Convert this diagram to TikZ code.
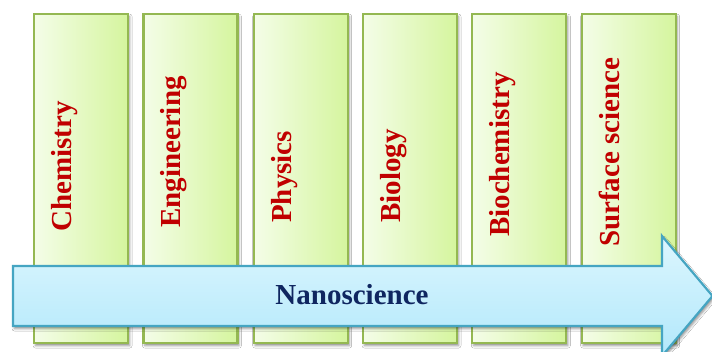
\documentclass[tikz,border=0pt]{standalone}
\usepackage{fontspec}
\setmainfont{Liberation Serif}
\usetikzlibrary{shadows.blur}
\definecolor{boxL}{HTML}{F4FDE8}
\definecolor{boxR}{HTML}{D5F59E}
\definecolor{boxE}{HTML}{94B852}
\definecolor{arrT}{HTML}{DCF6FE}
\definecolor{arrB}{HTML}{B2E8FB}
\definecolor{arrE}{HTML}{45A5C2}
\definecolor{lab}{HTML}{C00000}
\definecolor{nav}{HTML}{0F2660}
\tikzset{
  discbox/.style={draw=boxE, line width=2.2pt, left color=boxL, right color=boxR,
    minimum width=94pt, minimum height=329pt, anchor=north west, inner sep=0pt,
    blur shadow={shadow xshift=1.5pt, shadow yshift=-2.5pt, shadow blur radius=2.5pt, shadow opacity=45}},
  disclab/.style={rotate=90, anchor=base west, text=lab, font=\fontsize{29}{31}\selectfont\bfseries, inner sep=0pt},
  arrowbody/.style={draw=arrE, line width=2.2pt, top color=arrT, bottom color=arrB,
    blur shadow={shadow xshift=1.5pt, shadow yshift=-2.5pt, shadow blur radius=2.5pt, shadow opacity=45}},
}
\begin{document}
\begin{tikzpicture}[x=1pt,y=-1pt]
\useasboundingbox (0,0) rectangle (712,352);
\clip (0,0) rectangle (712,352);
\fill[white] (0,0) rectangle (712,352);
\node[discbox] (b1) at (33,13) {};
\node[discbox] (b2) at (142.3,13) {};
\node[discbox] (b3) at (252.6,13) {};
\node[discbox] (b4) at (361.9,13) {};
\node[discbox] (b5) at (471.2,13) {};
\node[discbox] (b6) at (580.5,13) {};
\node[disclab] (l1) at ([xshift=38.5pt]b1.west |- 0,232) {Chemistry};
\node[disclab] (l2) at ([xshift=38.5pt]b2.west |- 0,228) {Engineering};
\node[disclab] (l3) at ([xshift=38.5pt]b3.west |- 0,223) {Physics};
\node[disclab] (l4) at ([xshift=38.5pt]b4.west |- 0,223) {Biology};
\node[disclab] (l5) at ([xshift=38.5pt]b5.west |- 0,237) {Biochemistry};
\node[disclab] (l6) at ([xshift=38.5pt]b6.west |- 0,247) {Surface science};
\path[arrowbody] (13,266) -- (662,266) -- (662,236) -- (712.5,296) -- (662,356) -- (662,326) -- (13,326) -- cycle;
\node[anchor=base, text=nav, font=\fontsize{29}{31}\selectfont\bfseries, inner sep=0pt] (nano) at (352,305) {Nanoscience};
\end{tikzpicture}
\end{document}
